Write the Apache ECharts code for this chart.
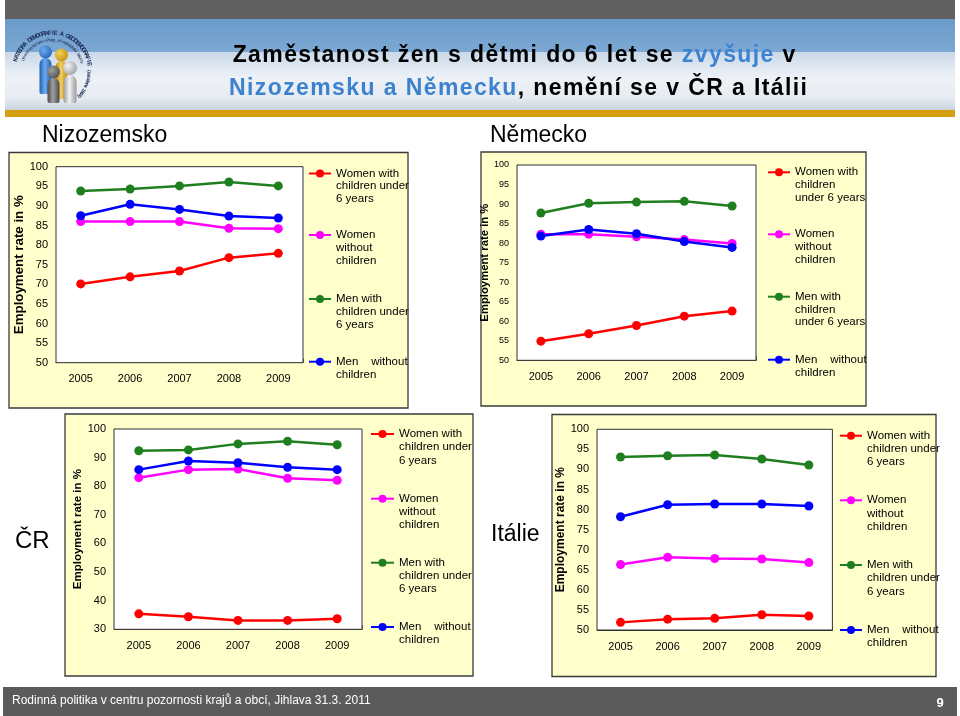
<!DOCTYPE html>
<html>
<head>
<meta charset="utf-8">
<script src="https://cdn.jsdelivr.net/npm/echarts@6/dist/echarts.min.js"></script>
<style>html,body{margin:0;padding:0;background:#fff;}#c{width:960px;height:716px;}</style>
</head>
<body>
<div id="c"></div>
<script>
// ---- data ----
var years = ['2005', '2006', '2007', '2008', '2009'];
var seriesNames = ['Women with children under 6 years', 'Women without children', 'Men with children under 6 years', 'Men without children'];

var nlWomenKids = [70.1, 71.9, 73.4, 76.8, 77.9];
var nlWomenNo   = [86.0, 86.0, 86.0, 84.3, 84.2];
var nlMenKids   = [93.8, 94.3, 95.1, 96.1, 95.1];
var nlMenNo     = [87.5, 90.4, 89.1, 87.4, 86.9];

var deWomenKids = [54.9, 56.8, 58.9, 61.3, 62.6];
var deWomenNo   = [82.3, 82.3, 81.6, 80.9, 79.9];
var deMenKids   = [87.7, 90.2, 90.5, 90.7, 89.5];
var deMenNo     = [81.8, 83.5, 82.4, 80.4, 78.9];

var czWomenKids = [35.4, 34.4, 33.1, 33.1, 33.7];
var czWomenNo   = [83.0, 85.8, 86.0, 82.8, 82.1];
var czMenKids   = [92.4, 92.7, 94.8, 95.7, 94.5];
var czMenNo     = [85.8, 88.8, 88.2, 86.6, 85.8];

var itWomenKids = [51.9, 52.7, 52.9, 53.8, 53.5];
var itWomenNo   = [66.3, 68.1, 67.8, 67.7, 66.8];
var itMenKids   = [93.1, 93.4, 93.6, 92.6, 91.1];
var itMenNo     = [78.2, 81.2, 81.4, 81.4, 80.9];

var yMin = [50, 50, 30, 50];
var yMax = [100, 100, 100, 100];
var yStep = [5, 5, 10, 5];

var legendTextsA = ['Women with\nchildren under\n6 years', 'Women\nwithout\nchildren', 'Men with\nchildren under\n6 years', 'Men    without\nchildren'];
var legendTextsB = ['Women with\nchildren\nunder 6 years', 'Women\nwithout\nchildren', 'Men with\nchildren\nunder 6 years', 'Men    without\nchildren'];

var titleLine1 = [['Zaměstanost žen s dětmi do 6 let se ', 'k'], ['zvyšuje', 'b'], [' v', 'k']];
var titleLine2 = [['Nizozemsku a Německu', 'b'], [', nemění se v ČR a Itálii', 'k']];
var footerText = 'Rodinná politika v centru pozornosti krajů a obcí, Jihlava 31.3. 2011';

// ---- layout / styling ----
var FONT = 'Liberation Sans, Arial, sans-serif';
var colors = ['#ff0000', '#ff00ff', '#1f7f1f', '#0000ff'];
var panelData = [
  [nlWomenKids, nlWomenNo, nlMenKids, nlMenNo],
  [deWomenKids, deWomenNo, deMenKids, deMenNo],
  [czWomenKids, czWomenNo, czMenKids, czMenNo],
  [itWomenKids, itWomenNo, itMenKids, itMenNo]
];
var grids = [
  {left: 56, top: 166.7, width: 247, height: 196},
  {left: 517, top: 165, width: 239, height: 195.3},
  {left: 114, top: 429, width: 248, height: 200.3},
  {left: 597, top: 429.3, width: 235.4, height: 200.7}
];
var yLabelSize = [11, 9, 11, 11];
var yNameSize = [13.3, 11.3, 11.5, 12];
var yNameGap = [27, 26, 29, 27];
var legendCfg = [
  {left: 308, itemWidth: 22, centers: [173.5, 235, 299, 361.7], texts: legendTextsA, lh: 12.8},
  {left: 767, itemWidth: 22, centers: [172.3, 234.3, 296.7, 359.7], texts: legendTextsB, lh: 12.7},
  {left: 370, itemWidth: 23, centers: [434, 498.7, 562.7, 627], texts: legendTextsA, lh: 13.3},
  {left: 839, itemWidth: 22, centers: [435.7, 500.3, 565, 630], texts: legendTextsA, lh: 13.3}
];

var option = {
  animation: false,
  grid: [], xAxis: [], yAxis: [], series: [], legend: [], graphic: []
};

for (var p = 0; p < 4; p++) {
  var g = grids[p];
  option.grid.push({left: g.left, top: g.top, width: g.width, height: g.height, show: true,
    backgroundColor: '#ffffff', borderColor: '#333333', borderWidth: 1, z: 1});
  option.xAxis.push({type: 'category', gridIndex: p, data: years, boundaryGap: true,
    axisLine: {show: true, lineStyle: {color: '#333', width: 1}},
    axisTick: {show: true, inside: true, length: 4, lineStyle: {color: '#666'}},
    axisLabel: {color: '#000', fontSize: 11, fontFamily: FONT, margin: 11},
    splitLine: {show: false}});
  option.yAxis.push({type: 'value', gridIndex: p, min: yMin[p], max: yMax[p], interval: yStep[p],
    name: 'Employment rate in %', nameLocation: 'middle', nameRotate: 90, nameGap: yNameGap[p],
    nameTextStyle: {color: '#000', fontWeight: 'bold', fontSize: yNameSize[p], fontFamily: FONT},
    axisLine: {show: true, lineStyle: {color: '#333'}},
    axisTick: {show: false},
    axisLabel: {color: '#000', fontSize: yLabelSize[p], fontFamily: FONT, margin: 8},
    splitLine: {show: true, lineStyle: {color: '#d9d9d9', width: 1}}});
  for (var s = 0; s < 4; s++) {
    option.series.push({type: 'line', name: seriesNames[s], xAxisIndex: p, yAxisIndex: p,
      data: panelData[p][s], symbol: 'circle', symbolSize: 9, z: 3 + s,
      itemStyle: {color: colors[s]}, lineStyle: {color: colors[s], width: 2.5}});
    var lc = legendCfg[p];
    var txt = lc.texts[s];
    var n = txt.split('\n').length;
    var shown = new Array(n).join(' \n') + txt; // blank lines so first line sits on the icon
    var H = (2 * n - 1) * lc.lh;
    option.legend.push({
      data: [seriesNames[s]], orient: 'vertical', left: lc.left, top: lc.centers[s] - H / 2,
      padding: 0, itemWidth: lc.itemWidth, itemHeight: 10, selectedMode: false,
      formatter: (function (t) { return function () { return t; }; })(shown),
      textStyle: {color: '#000', fontSize: 11.5, fontFamily: FONT, lineHeight: lc.lh}
    });
  }
}

// ---- decoration ----
var gfx = option.graphic;
// header
gfx.push({type: 'rect', z: -10, shape: {x: 5, y: 0, width: 950, height: 19}, style: {fill: '#606060'}});
gfx.push({type: 'rect', z: -10, shape: {x: 5, y: 19, width: 950, height: 33},
  style: {fill: new echarts.graphic.LinearGradient(0, 0, 0, 1, [{offset: 0, color: '#6b9bcb'}, {offset: 1, color: '#7ca8d3'}])}});
gfx.push({type: 'rect', z: -10, shape: {x: 5, y: 52, width: 950, height: 58},
  style: {fill: new echarts.graphic.LinearGradient(0, 0, 0, 1, [{offset: 0, color: '#c9d8e8'}, {offset: 0.45, color: '#eef2f7'}, {offset: 0.8, color: '#e6ebf1'}, {offset: 1, color: '#c9d3de'}])}});
gfx.push({type: 'rect', z: -10, shape: {x: 5, y: 110, width: 950, height: 7}, style: {fill: '#d59f10'}});
// title with letter spacing, character by character
var measureCtx = document.createElement('canvas').getContext('2d');
var titleFont = 'bold 23px ' + FONT;
var titleColors = {k: '#000000', b: '#3c82cf'};
function spacedLine(segs, cx, cy, spacing) {
  measureCtx.font = titleFont;
  var chars = [];
  segs.forEach(function (sg) { for (var i = 0; i < sg[0].length; i++) chars.push([sg[0][i], sg[1]]); });
  var widths = chars.map(function (c) { return measureCtx.measureText(c[0]).width; });
  var total = widths.reduce(function (a, b) { return a + b; }, 0) + spacing * (chars.length - 1);
  var x = cx - total / 2;
  chars.forEach(function (c, i) {
    if (c[0] !== ' ') {
      gfx.push({type: 'text', z: 20, x: x, y: cy, style: {text: c[0], fill: titleColors[c[1]], font: titleFont, verticalAlign: 'middle'}});
    }
    x += widths[i] + spacing;
  });
}
spacedLine(titleLine1, 514, 56, 1.4);
spacedLine(titleLine2, 518, 89, 1.4);
// logo figures
function fig(cx, headY, r, bodyTop, bodyBot, w, c1, c2) {
  gfx.push({type: 'rect', z: 5, shape: {x: cx - w / 2, y: bodyTop, width: w, height: bodyBot - bodyTop, r: [w / 2, w / 2, 2, 2]},
    style: {fill: new echarts.graphic.LinearGradient(0, 0, 1, 0, [{offset: 0, color: c1}, {offset: 0.45, color: c2}, {offset: 1, color: c1}])}});
  gfx.push({type: 'circle', z: 5, shape: {cx: cx, cy: headY, r: r},
    style: {fill: new echarts.graphic.RadialGradient(0.35, 0.35, 0.8, [{offset: 0, color: c2}, {offset: 1, color: c1}])}});
}
fig(45.5, 52, 6.5, 58, 94, 12, '#1f5fb0', '#6eaaf0');
fig(61.5, 55, 6.5, 61, 99, 12, '#c08a00', '#f4d060');
fig(53.5, 72, 6.5, 78, 103, 12, '#4a4a4a', '#a0a0a0');
fig(70, 68, 7, 75, 103, 13, '#9a9a9a', '#f2f2f2');
function arcText(str, cx, cy, r, a0, a1, size, color, weight) {
  var nch = str.length;
  for (var i = 0; i < nch; i++) {
    var a = a0 + (a1 - a0) * (i + 0.5) / nch; // degrees, 0 = right, 90 = up
    var rad = a * Math.PI / 180;
    gfx.push({type: 'text', z: 6, x: cx + r * Math.cos(rad), y: cy - r * Math.sin(rad), rotation: rad - Math.PI / 2,
      style: {text: str[i], fill: color, font: (weight || 'bold') + ' ' + size + 'px ' + FONT, align: 'center', verticalAlign: 'middle'}});
  }
}
arcText('KATEDRA DEMOGRAFIE A GEODEMOGRAFIE', 52, 71, 38, 165, 8, 6.2, '#1a2a55', 'bold');
arcText('(založena 1964)', 52, 71, 37, 2, -45, 5, '#1a2a55', 'bold');
arcText('Univerzita Karlova v Praze, přírodovědecká fakulta', 52, 71, 31, 160, 15, 4.3, '#1a2a55', 'normal');
// panel boxes
var boxes = [[9, 152.5, 399, 255.5], [481, 152, 385, 254], [65, 414, 408, 262], [552, 414.5, 384, 262]];
boxes.forEach(function (b) {
  gfx.push({type: 'rect', z: -5, shape: {x: b[0], y: b[1], width: b[2], height: b[3]},
    style: {fill: '#ffffcc', stroke: '#3a3a3a', lineWidth: 1.3}});
});
// section labels
gfx.push({type: 'text', z: 20, x: 42, y: 136, style: {text: 'Nizozemsko', fill: '#000', font: '23px ' + FONT, verticalAlign: 'middle'}});
gfx.push({type: 'text', z: 20, x: 490, y: 136, style: {text: 'Německo', fill: '#000', font: '23px ' + FONT, verticalAlign: 'middle'}});
gfx.push({type: 'text', z: 20, x: 15, y: 541, style: {text: 'ČR', fill: '#000', font: '24px ' + FONT, verticalAlign: 'middle'}});
gfx.push({type: 'text', z: 20, x: 491, y: 535, style: {text: 'Itálie', fill: '#000', font: '23px ' + FONT, verticalAlign: 'middle'}});
// footer
gfx.push({type: 'rect', z: -10, shape: {x: 3, y: 687, width: 954, height: 29}, style: {fill: '#5b5b5b'}});
gfx.push({type: 'text', z: 20, x: 12, y: 701, style: {text: footerText, fill: '#fff', font: '12px "Liberation Sans Narrow", "Arial Narrow", ' + FONT, verticalAlign: 'middle'}});
gfx.push({type: 'text', z: 20, x: 940, y: 703, style: {text: '9', fill: '#fff', font: 'bold 13px ' + FONT, align: 'center', verticalAlign: 'middle'}});

var chart = echarts.init(document.getElementById('c'), null, {renderer: 'canvas'});
chart.setOption(option);
</script>
</body>
</html>
